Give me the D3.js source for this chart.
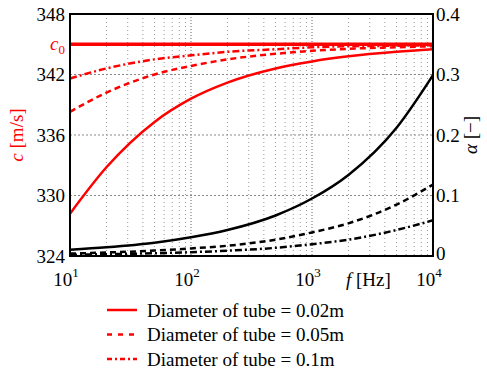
<!DOCTYPE html>
<html>
<head>
<meta charset="utf-8">
<script src="https://cdn.jsdelivr.net/npm/d3@7"></script>
<style>
  body { margin: 0; background: #fff; }
</style>
</head>
<body>
<div id="chart"></div>
<script>
var freqs = [10, 20, 50, 100, 200, 500, 1000, 2000, 5000, 10000];

// speed of sound c [m/s] for the three tube diameters
var cSolid   = [328.2, 332.8, 337.3, 339.6, 341.2, 342.6, 343.3, 343.8, 344.25, 344.5];
var cDash    = [338.3, 340.2, 342.0, 342.85, 343.5, 344.05, 344.35, 344.55, 344.7, 344.8];
var cDashDot = [341.6, 342.6, 343.5, 343.9, 344.25, 344.5, 344.7, 344.8, 344.85, 344.9];
var c0 = 345;

// attenuation alpha [-]
var aSolid   = [0.0105, 0.0145, 0.022, 0.031, 0.043, 0.067, 0.095, 0.134, 0.212, 0.299];
var aDash    = [0.004, 0.0058, 0.009, 0.0125, 0.017, 0.027, 0.039, 0.054, 0.085, 0.118];
var aDashDot = [0.002, 0.003, 0.0045, 0.0063, 0.0088, 0.0135, 0.0195, 0.027, 0.043, 0.059];

var cTicks = [324, 330, 336, 342, 348];
var aTicks = [0, 0.1, 0.2, 0.3, 0.4];
var decades = [10, 100, 1000, 10000];
var legendLabels = ["Diameter of tube = 0.02m", "Diameter of tube = 0.05m", "Diameter of tube = 0.1m"];

var W = 487, H = 372;
var m = {left: 70, top: 14, right: 54, bottom: 116};
var w = W - m.left - m.right, h = H - m.top - m.bottom;
var serif = "'Liberation Serif'";  // above 19px this falls back to a sans face here

var dashes = ["none", "6,4", "7,3,2,3"];

var svg = d3.select("#chart").append("svg")
  .attr("width", W).attr("height", H);
var g = svg.append("g").attr("transform", "translate(" + m.left + "," + m.top + ")");

var x = d3.scaleLog().domain([10, 10000]).range([0, w]);
var yc = d3.scaleLinear().domain([324, 348]).range([h, 0]);
var ya = d3.scaleLinear().domain([0, 0.4]).range([h, 0]);

//// grid
var minor = [];
decades.slice(0, 3).forEach(function(d){
  for (var k = 2; k <= 9; k++) minor.push(d * k);
});
g.selectAll(".minor").data(minor).join("line")
  .attr("x1", function(d){ return x(d); }).attr("x2", function(d){ return x(d); })
  .attr("y1", 0).attr("y2", h)
  .style("stroke", "#999").style("stroke-width", 1).style("stroke-dasharray", "1,3");
g.selectAll(".major").data(decades.slice(1, 3)).join("line")
  .attr("x1", function(d){ return x(d); }).attr("x2", function(d){ return x(d); })
  .attr("y1", 0).attr("y2", h)
  .style("stroke", "#666").style("stroke-width", 1).style("stroke-dasharray", "1,2");
g.selectAll(".hgrid").data(cTicks.slice(1, 4)).join("line")
  .attr("x1", 0).attr("x2", w)
  .attr("y1", function(d){ return yc(d); }).attr("y2", function(d){ return yc(d); })
  .style("stroke", "#888").style("stroke-width", 1).style("stroke-dasharray", "2,2");

//// curves
var lineC = d3.line().x(function(d){ return x(d[0]); }).y(function(d){ return yc(d[1]); })
  .curve(d3.curveMonotoneX);
var lineA = d3.line().x(function(d){ return x(d[0]); }).y(function(d){ return ya(d[1]); })
  .curve(d3.curveMonotoneX);

var cSeries = [cSolid, cDash, cDashDot];
var aSeries = [aSolid, aDash, aDashDot];

g.selectAll(".aline").data(aSeries).join("path")
  .attr("d", function(s){ return lineA(d3.zip(freqs, s)); })
  .style("fill", "none").style("stroke", "#000").style("stroke-width", 2.5)
  .style("stroke-dasharray", function(d, i){ return dashes[i]; });

g.append("line")
  .attr("x1", 0).attr("x2", w).attr("y1", yc(c0)).attr("y2", yc(c0))
  .style("stroke", "#ff0000").style("stroke-width", 3.5);

g.selectAll(".cline").data(cSeries).join("path")
  .attr("d", function(s){ return lineC(d3.zip(freqs, s)); })
  .style("fill", "none").style("stroke", "#ff0000").style("stroke-width", 2.5)
  .style("stroke-dasharray", function(d, i){ return dashes[i]; });

//// frame
g.append("rect").attr("width", w).attr("height", h)
  .style("fill", "none").style("stroke", "#000").style("stroke-width", 2);

//// tick labels
g.selectAll(".cl").data(cTicks).join("text")
  .attr("x", -5).attr("y", function(d){ return yc(d); }).attr("dy", "0.35em")
  .attr("text-anchor", "end")
  .style("font-family", serif).style("font-size", "19px")
  .text(function(d){ return d; });

g.selectAll(".al").data(aTicks).join("text")
  .attr("x", 3).attr("y", function(d){ return d === 0 ? ya(d) - 3 : ya(d); }).attr("dy", "0.35em")
  .attr("transform", "translate(" + w + ",0)")
  .style("font-family", serif).style("font-size", "19px")
  .text(function(d){ return d === 0 ? "0" : d3.format(".1f")(d); });

var xl = g.selectAll(".xl").data(decades).join("text")
  .attr("x", function(d){ return x(d) - 4; }).attr("y", h + 30)
  .attr("text-anchor", "middle")
  .style("font-family", serif).style("font-size", "19px");
xl.append("tspan").text("10");
xl.append("tspan").attr("dy", -9).style("font-size", "13px")
  .text(function(d){ return Math.round(Math.log10(d)); });

//// axis titles
var xt = g.append("text").attr("x", 276).attr("y", h + 30)
  .style("font-family", serif).style("font-size", "19px");
xt.append("tspan").style("font-style", "italic").text("f");
xt.append("tspan").text("  [Hz]");

var yt = g.append("text")
  .attr("transform", "translate(-47," + (h / 2) + ") rotate(-90)")
  .attr("text-anchor", "middle")
  .style("font-family", serif).style("font-size", "19px")
  .style("fill", "#ff0000");
yt.append("tspan").style("font-style", "italic").text("c");
yt.append("tspan").text(" [m/s]");

var at = g.append("text")
  .attr("transform", "translate(" + (w + 44) + "," + (h / 2) + ") rotate(-90)")
  .attr("text-anchor", "middle")
  .style("font-family", serif).style("font-size", "19px");
at.append("tspan").style("font-style", "italic").text("α");
at.append("tspan").text(" [−]");

var c0t = g.append("text").attr("x", -5).attr("y", yc(c0)).attr("dy", "0.3em")
  .attr("text-anchor", "end")
  .style("font-family", serif).style("font-size", "19px").style("fill", "#ff0000");
c0t.append("tspan").style("font-style", "italic").text("c");
c0t.append("tspan").attr("dy", 4).style("font-size", "13px").text("0");

//// legend
var leg = svg.append("g").attr("transform", "translate(107,310)");
var li = leg.selectAll(".li").data(legendLabels).join("g")
  .attr("transform", function(d, i){ return "translate(0," + (i * 24.5) + ")"; });
li.append("line").attr("x1", 0).attr("x2", 30).attr("y1", 0).attr("y2", 0)
  .style("stroke", "#ff0000").style("stroke-width", 2.5)
  .style("stroke-dasharray", function(d, i){ return i === 0 ? "none" : (i === 1 ? "5,6" : "5,3,2,3"); });
li.append("text").attr("x", 40).attr("dy", "0.35em")
  .style("font-family", serif).style("font-size", "19px")
  .text(function(d){ return d; });
</script>
</body>
</html>
